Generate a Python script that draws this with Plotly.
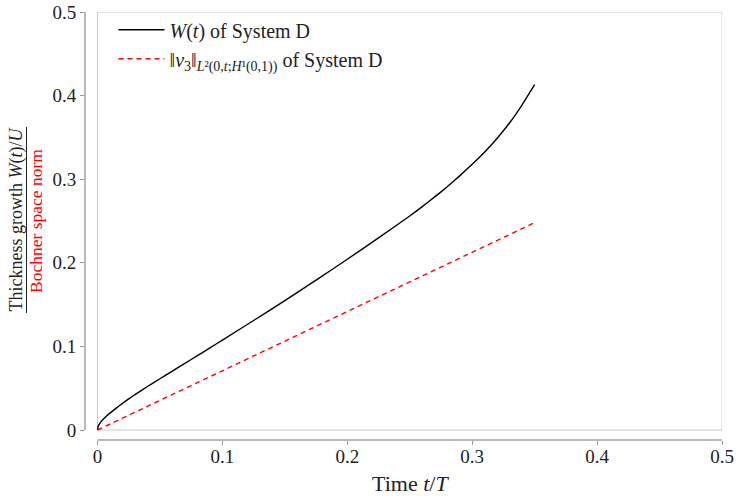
import plotly.graph_objects as go

# Data
t_w = [0, 0.0005, 0.001, 0.002, 0.003, 0.005, 0.0075, 0.01, 0.015, 0.02, 0.025, 0.03, 0.04,
       0.05, 0.06, 0.07, 0.08, 0.09, 0.1, 0.125, 0.15, 0.175, 0.2, 0.225, 0.25, 0.26, 0.27, 0.28,
       0.29, 0.3, 0.31, 0.32, 0.33, 0.34, 0.35]
w_vals = [0, 0.004, 0.0058, 0.0083, 0.0103, 0.0135, 0.0170, 0.0202, 0.0262, 0.0318, 0.0372, 0.0423, 0.0520,
          0.0613, 0.0705, 0.0797, 0.0889, 0.0982, 0.1075, 0.131, 0.1548, 0.1792, 0.2042, 0.2298, 0.256,
          0.2672, 0.2788, 0.291, 0.304, 0.3178, 0.3325, 0.349, 0.3675, 0.389, 0.413]
t_v = [0, 0.35]
v_vals = [0, 0.248]

x_ticks = [0, 0.1, 0.2, 0.3, 0.4, 0.5]
x_tick_text = ["0", "0.1", "0.2", "0.3", "0.4", "0.5"]
y_ticks = [0, 0.1, 0.2, 0.3, 0.4, 0.5]
y_tick_text = ["0", "0.1", "0.2", "0.3", "0.4", "0.5"]

FONT = "Liberation Serif, serif"
TXT = "#222222"

fig = go.Figure()
fig.add_trace(go.Scatter(x=t_w, y=w_vals, mode="lines",
                         line=dict(color="black", width=1.4, shape="spline", smoothing=0.3),
                         name="<i>W</i>(<i>t</i>) of System D"))
fig.add_trace(go.Scatter(x=t_v, y=v_vals, mode="lines", line=dict(color="red", width=1.4, dash="5px,4px"),
                         name="‖<i>v</i><sub>3</sub>‖<sub><i>L</i>²(0,<i>t</i>;<i>H</i>¹(0,1))</sub> of System D"))

L, R, T, B = 85, 14, 12, 60
W, H = 736, 500
pw, ph = W - L - R, H - T - B
XS = 1250.0  # px per unit x
YS = 836.0   # px per unit y
x0px = 97.5
y0px = 430.0
xoff = (x0px - L) / XS
yoff = (H - B - y0px) / YS

fig.update_layout(
    template="none",
    width=W, height=H,
    margin=dict(l=L, r=R, t=T, b=B, autoexpand=False),
    plot_bgcolor="white", paper_bgcolor="white",
    font=dict(family=FONT, size=19, color=TXT),
    showlegend=True,
    legend=dict(x=(113.5 - L) / pw, y=1 + 1.7 / ph, xanchor="left", yanchor="top", bgcolor="rgba(0,0,0,0)",
                borderwidth=0, itemwidth=46, font=dict(family=FONT, size=20, color=TXT), tracegroupgap=0),
    xaxis=dict(range=[-xoff, 0.5], tickvals=x_ticks, ticktext=x_tick_text, showgrid=False, zeroline=False,
               showline=False, ticks="outside", ticklen=4, tickcolor="#999999", tickwidth=1.2,
               ticklabelstandoff=-5,
               automargin=False, tickfont=dict(family=FONT, size=19, color=TXT)),
    yaxis=dict(range=[-yoff, 0.5], tickvals=y_ticks, ticktext=y_tick_text, showgrid=False, zeroline=False,
               showline=False, ticks="outside", ticklen=4, tickcolor="#999999", tickwidth=1.2,
               automargin=False, tickfont=dict(family=FONT, size=19, color=TXT)),
)

# plot frame
fig.add_shape(type="rect", xref="x", yref="y", x0=0, x1=0.5, y0=0, y1=0.5,
              line=dict(color="#cccccc", width=1), layer="below")
# offset axis lines
fig.add_shape(type="line", xref="paper", yref="y", x0=0, x1=0, y0=0, y1=0.5,
              line=dict(color="#a0a0a0", width=1.5))
fig.add_shape(type="line", xref="x", yref="paper", x0=0, x1=0.5, y0=0, y1=0,
              line=dict(color="#a0a0a0", width=1.5))


def px_to_paper_x(px):
    return (px - L) / pw


def px_to_paper_y(py):
    return (H - B - py) / ph


# x-axis title
fig.add_annotation(xref="paper", yref="paper", x=px_to_paper_x(410), y=px_to_paper_y(483),
                   text="Time <i>t</i>/<i>T</i>", showarrow=False,
                   font=dict(family=FONT, size=22, color=TXT), xanchor="center", yanchor="middle")

# y-axis fraction title
fig.add_annotation(xref="paper", yref="paper", x=px_to_paper_x(15.5), y=px_to_paper_y(220),
                   text="Thickness growth <i>W</i>(<i>t</i>)/<i>U</i>", textangle=-90, showarrow=False,
                   font=dict(family=FONT, size=18, color=TXT), xanchor="center", yanchor="middle")
fig.add_annotation(xref="paper", yref="paper", x=px_to_paper_x(36), y=px_to_paper_y(221),
                   text="Bochner space norm", textangle=-90, showarrow=False,
                   font=dict(family=FONT, size=17.5, color="red"), xanchor="center", yanchor="middle")
fig.add_shape(type="line", xref="paper", yref="paper", x0=px_to_paper_x(26.5), x1=px_to_paper_x(26.5),
              y0=px_to_paper_y(127), y1=px_to_paper_y(313), line=dict(color=TXT, width=1))

fig.write_html("out.html")
